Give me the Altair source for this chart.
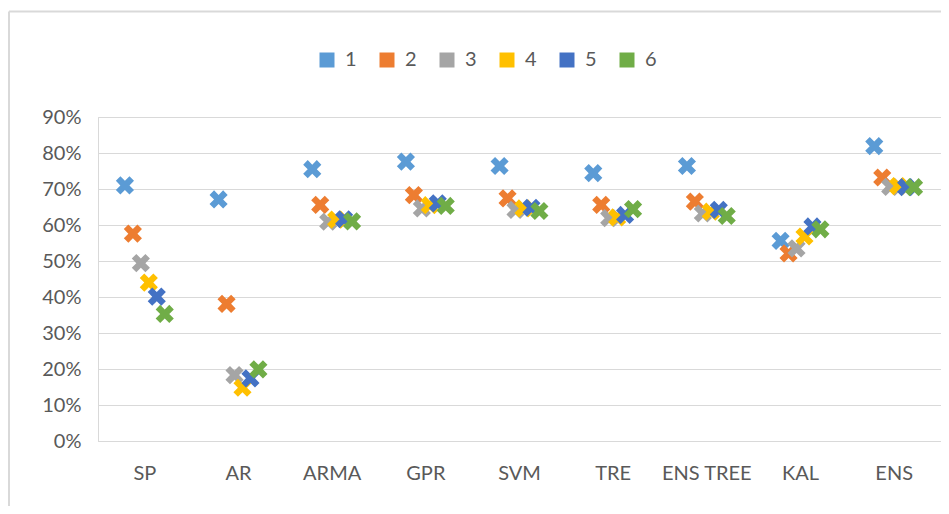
import altair as alt
import pandas as pd

categories = ["SP", "AR", "ARMA", "GPR", "SVM", "TRE", "ENS TREE", "KAL", "ENS"]
series_names = ["1", "2", "3", "4", "5", "6"]
colors = ["#5B9BD5", "#ED7D31", "#A5A5A5", "#FFC000", "#4472C4", "#70AD47"]

s1 = [0.710, 0.671, 0.755, 0.776, 0.764, 0.744, 0.764, 0.556, 0.819]
s2 = [0.576, 0.381, 0.656, 0.683, 0.674, 0.656, 0.665, 0.521, 0.732]
s3 = [0.494, 0.183, 0.609, 0.646, 0.642, 0.619, 0.632, 0.535, 0.706]
s4 = [0.440, 0.148, 0.615, 0.655, 0.646, 0.621, 0.637, 0.568, 0.708]
s5 = [0.401, 0.174, 0.616, 0.660, 0.648, 0.628, 0.642, 0.596, 0.705]
s6 = [0.353, 0.199, 0.610, 0.653, 0.639, 0.644, 0.625, 0.588, 0.705]
y_ticks = [0, 0.1, 0.2, 0.3, 0.4, 0.5, 0.6, 0.7, 0.8, 0.9]

all_series = [s1, s2, s3, s4, s5, s6]
rows = []
for name, vals in zip(series_names, all_series):
    for cat, v in zip(categories, vals):
        rows.append({"category": cat, "series": name, "value": v})
df = pd.DataFrame(rows)

a = 0.5
x_shape = (f"M-1,{-1+a}L{-1+a},-1L0,{-a}L{1-a},-1L1,{-1+a}L{a},0"
           f"L1,{1-a}L{1-a},1L0,{a}L{-1+a},1L-1,{1-a}L{-a},0Z")

FONT = "Lato"
TXT = "#595959"
GRID = "#d9d9d9"

points = alt.Chart(df).mark_point(
    shape=x_shape, filled=True, size=330, opacity=1, strokeWidth=0
).encode(
    x=alt.X("category:N", sort=categories, title=None,
            scale=alt.Scale(paddingInner=0.49, paddingOuter=0.245),
            axis=alt.Axis(labelAngle=0, ticks=False, domainColor=GRID,
                          labelPadding=22, labelFontSize=20, labelColor=TXT,
                          labelFont=FONT, grid=False)),
    xOffset=alt.XOffset("series:N", sort=series_names),
    y=alt.Y("value:Q", title=None,
            scale=alt.Scale(domain=[0, 0.9], nice=False),
            axis=alt.Axis(values=y_ticks, format=".0%", ticks=False,
                          domainColor=GRID, gridColor=GRID, labelPadding=17,
                          labelFontSize=20, labelColor=TXT, labelFont=FONT)),
    color=alt.Color("series:N", sort=series_names,
                    scale=alt.Scale(domain=series_names, range=colors),
                    legend=alt.Legend(title=None, orient="none", direction="horizontal",
                                      legendX=219, legendY=-67,
                                      symbolType="square", symbolSize=225,
                                      symbolStrokeWidth=0, labelFontSize=20,
                                      labelColor=TXT, labelFont=FONT,
                                      labelOffset=8, columnPadding=20)),
    order=alt.Order("series:N"),
)

frame_df = pd.DataFrame({"k": [0]})
top_border = alt.Chart(frame_df).mark_rule(color=GRID, strokeWidth=2).encode(
    x=alt.value(-89), x2=alt.value(900), y=alt.value(-105.5))
left_border = alt.Chart(frame_df).mark_rule(color=GRID, strokeWidth=2).encode(
    x=alt.value(-89), y=alt.value(-105.5), y2=alt.value(420))

chart = alt.layer(top_border, left_border, points).properties(
    width=843, height=324,
    autosize=alt.AutoSizeParams(type="none"),
    padding={"left": 90, "top": 109, "right": 0, "bottom": 65},
).configure_view(stroke=None).configure(background="white")

chart.save("out.html", embed_options={"renderer": "svg", "actions": False})
